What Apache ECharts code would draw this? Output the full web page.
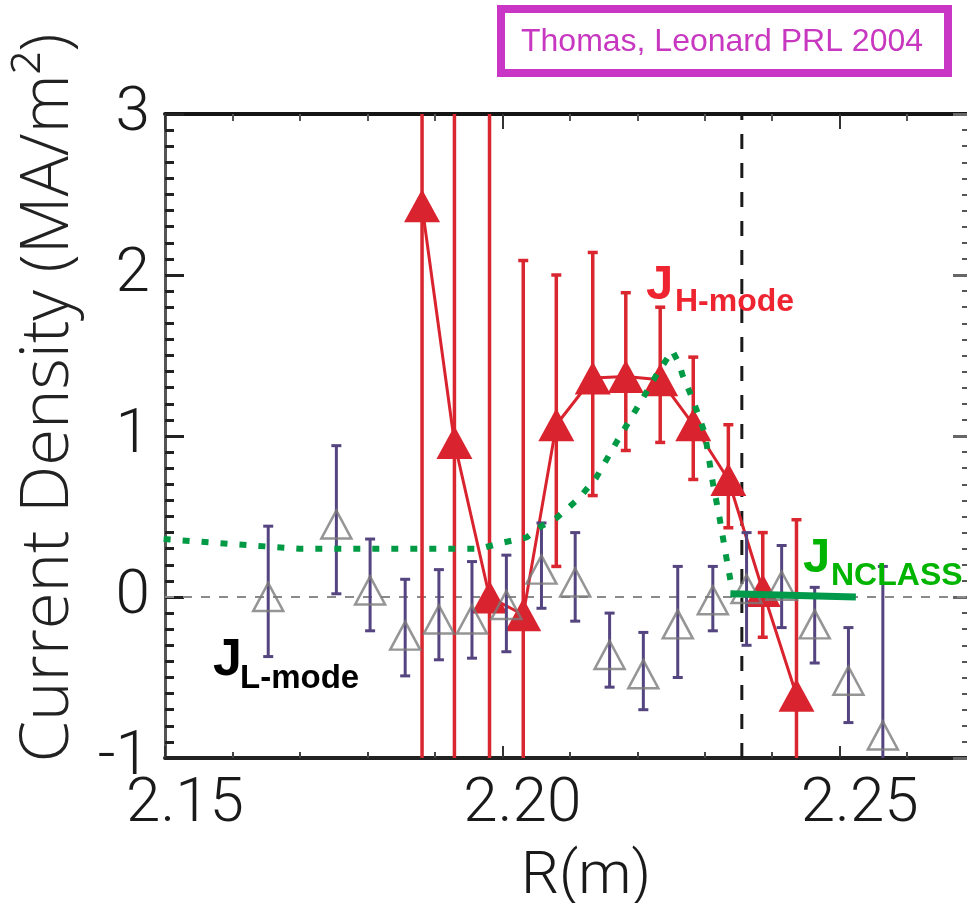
<!DOCTYPE html>
<html><head><meta charset="utf-8">
<script src="https://cdn.jsdelivr.net/npm/echarts@6/dist/echarts.min.js"></script>
<style>html,body{margin:0;padding:0;background:#fff}#c{width:967px;height:903px}</style>
</head><body><div id="c"></div>
<script>
// H-mode (filled red triangles)
const hX  = [2.1881, 2.1929, 2.1981, 2.2031, 2.2080, 2.2134, 2.2183, 2.2234, 2.2283, 2.2335, 2.2386, 2.2436];
const hY  = [2.43, 0.96, 0.00, -0.11, 1.07, 1.36, 1.37, 1.35, 1.07, 0.73, 0.04, -0.61];
const hHi = [4.0, 4.0, 4.0, 2.09, 2.00, 2.14, 1.89, 1.80, 1.49, 1.07, 0.40, 0.48];
const hLo = [-2.0, -2.0, -2.0, -2.0, 0.19, 0.63, 0.91, 0.96, 0.73, 0.43, -0.25, -2.0];
// L-mode (open triangles)
const lX  = [2.1653, 2.1754, 2.1804, 2.1856, 2.1906, 2.1955, 2.2006, 2.2058, 2.2108, 2.2159, 2.2209, 2.2260, 2.2312, 2.2362, 2.2414, 2.2463, 2.2513, 2.2564];
const lY  = [0.00, 0.45, 0.04, -0.24, -0.14, -0.14, -0.05, 0.17, 0.09, -0.36, -0.48, -0.17, -0.02, 0.05, 0.07, -0.17, -0.52, -0.86];
const lHi = [0.44, 0.94, 0.36, 0.11, 0.17, 0.22, 0.26, 0.46, 0.40, -0.10, -0.22, 0.19, 0.19, 0.40, 0.32, 0.06, -0.19, 0.19];
const lLo = [-0.37, 0.02, -0.21, -0.49, -0.39, -0.38, -0.34, -0.07, -0.15, -0.56, -0.70, -0.50, -0.21, -0.30, -0.19, -0.41, -0.78, -1.5];
// NCLASS dotted curve
const gX = [2.1498, 2.1595, 2.1699, 2.1966, 2.2003, 2.2036, 2.2058, 2.2080, 2.2113, 2.2139, 2.2169, 2.2199, 2.2230, 2.2252, 2.2262, 2.2267, 2.2282, 2.2300, 2.2312, 2.2322, 2.2331, 2.2340];
const gY = [0.36, 0.33, 0.30, 0.30, 0.34, 0.37, 0.44, 0.49, 0.61, 0.74, 0.96, 1.17, 1.39, 1.53, 1.45, 1.38, 1.23, 1.02, 0.71, 0.49, 0.27, 0.06];
// NCLASS solid segment
const nX = [2.2338, 2.2524];
const nY = [0.02, 0.00];
// reference lines
const vLineX = 2.2355;
const zeroY = 0;
// axes
const xMin = 2.15, xMax = 2.30, xStep = 0.05;
const yMin = -1, yMax = 3, yStep = 1;
const xTickLabels = ['2.15', '2.20', '2.25'];

const zip = (a, b) => a.map((v, i) => [v, b[i]]);
const zip3 = (a, b, c) => a.map((v, i) => [v, b[i], c[i]]);

const light = "Roboto, 'Liberation Sans', Arial, sans-serif";
const bold = "'Liberation Sans', Arial, sans-serif";

function errRender(color, lw, capW) {
  return function (params, api) {
    const x = api.value(0), lo = api.value(1), hi = api.value(2);
    const p1 = api.coord([x, hi]), p2 = api.coord([x, lo]);
    const cs = params.coordSys;
    const top = cs.y, bot = cs.y + cs.height;
    const y1 = Math.max(p1[1], top), y2 = Math.min(p2[1], bot);
    const st = { stroke: color, lineWidth: lw };
    const ch = [{ type: 'line', shape: { x1: p1[0], y1: y1, x2: p1[0], y2: y2 }, style: st }];
    if (p1[1] >= top) ch.push({ type: 'line', shape: { x1: p1[0] - capW / 2, y1: p1[1], x2: p1[0] + capW / 2, y2: p1[1] }, style: st });
    if (p2[1] <= bot) ch.push({ type: 'line', shape: { x1: p2[0] - capW / 2, y1: p2[1], x2: p2[0] + capW / 2, y2: p2[1] }, style: st });
    return { type: 'group', children: ch };
  };
}

const chart = echarts.init(document.getElementById('c'));
const xBase = {
  type: 'value', min: xMin, max: xMax, interval: xStep,
  splitLine: { show: false }, minorSplitLine: { show: false }
};
const yBase = {
  type: 'value', min: yMin, max: yMax, interval: yStep,
  splitLine: { show: false }, minorSplitLine: { show: false }
};
chart.setOption({
  animation: false,
  backgroundColor: '#fff',
  grid: { left: 165, top: 114, right: -210, bottom: 145, containLabel: false, outerBoundsMode: 'none' },
  xAxis: [
    Object.assign({}, xBase, {
      position: 'bottom',
      axisLine: { show: true, onZero: false, lineStyle: { color: '#222', width: 4 } },
      axisTick: { show: true, inside: true, length: 12, lineStyle: { color: '#333', width: 2 } },
      minorTick: { show: true, splitNumber: 5, length: 6, lineStyle: { color: '#444', width: 2 } },
      axisLabel: {
        show: true, margin: 16, fontFamily: light, fontWeight: 300, fontSize: 62, color: '#1a1a1a',
        padding: [0, 0, 0, 40],
        formatter: v => { const s = v.toFixed(2); return xTickLabels.indexOf(s) >= 0 ? s : ''; }
      }
    }),
    Object.assign({}, xBase, {
      position: 'top',
      axisLine: { show: true, onZero: false, lineStyle: { color: '#151515', width: 4 } },
      axisTick: { show: true, inside: true, length: 15, lineStyle: { color: '#333', width: 2 } },
      minorTick: { show: true, splitNumber: 5, length: 7, lineStyle: { color: '#555', width: 2 } },
      axisLabel: { show: false }
    })
  ],
  yAxis: [
    Object.assign({}, yBase, {
      position: 'left',
      axisLine: { show: true, onZero: false, lineStyle: { color: '#555', width: 3 } },
      axisTick: { show: true, inside: true, length: 19, lineStyle: { color: '#222', width: 3 } },
      minorTick: { show: true, splitNumber: 10, length: 9, lineStyle: { color: '#222', width: 3 } },
      axisLabel: { show: true, margin: 15, fontFamily: light, fontWeight: 300, fontSize: 62, color: '#1a1a1a' }
    }),
    Object.assign({}, yBase, {
      position: 'right', offset: -207,
      axisLine: { show: true, onZero: false, lineStyle: { color: '#444', width: 3 } },
      axisTick: { show: true, inside: true, length: 17, lineStyle: { color: '#666', width: 3 } },
      minorTick: { show: true, splitNumber: 10, length: 8, lineStyle: { color: '#555', width: 2 } },
      axisLabel: { show: false }
    })
  ],
  series: [
    {
      type: 'line', name: 'zero', data: [[xMin, zeroY], [xMax, zeroY]], symbol: 'none', silent: true,
      lineStyle: { color: '#8a8a8a', width: 2, type: [9, 9] }, z: 1
    },
    {
      type: 'line', name: 'separatrix', data: [[vLineX, yMin], [vLineX, yMax]], symbol: 'none', silent: true,
      lineStyle: { color: '#1a1a1a', width: 3, type: [15, 14] }, z: 1
    },
    {
      type: 'custom', name: 'H err', data: zip3(hX, hLo, hHi), clip: true,
      renderItem: errRender('#d9262f', 3.5, 10), encode: { x: 0, y: [1, 2] }, z: 3
    },
    {
      type: 'line', name: 'H-mode', data: zip(hX, hY),
      symbol: 'triangle', symbolSize: [36, 33], showSymbol: true,
      lineStyle: { color: '#d9232e', width: 3 },
      itemStyle: { color: '#d9232e' }, z: 4
    },
    {
      type: 'custom', name: 'L err', data: zip3(lX, lLo, lHi), clip: true,
      renderItem: errRender('#54447f', 3, 10), encode: { x: 0, y: [1, 2] }, z: 5
    },
    {
      type: 'scatter', name: 'L-mode', data: zip(lX, lY),
      symbol: 'triangle', symbolSize: [30, 28],
      itemStyle: { color: 'rgba(0,0,0,0)', borderColor: '#7a7a7a', borderWidth: 2.5 }, z: 6
    },
    {
      type: 'line', name: 'NCLASS', data: zip(gX, gY), showSymbol: false, symbol: 'none',
      lineStyle: { color: '#009a44', width: 6, type: [7, 12], cap: 'butt' }, z: 7
    },
    {
      type: 'line', name: 'NCLASS solid', data: zip(nX, nY), showSymbol: false, symbol: 'none',
      lineStyle: { color: '#009a4a', width: 7 }, z: 7
    }
  ],
  graphic: [
    { type: 'rect', shape: { x: 501, y: 9, width: 447, height: 64 },
      style: { fill: '#fff', stroke: '#c935c4', lineWidth: 8 } },
    { type: 'text', x: 722, y: 42,
      style: { text: 'Thomas, Leonard PRL 2004', fontFamily: bold, fontSize: 32, fill: '#c737bf',
        align: 'center', verticalAlign: 'middle', textAlign: 'center', textVerticalAlign: 'middle' } },
    { type: 'text', x: 49, y: 398, rotation: Math.PI / 2,
      style: { text: 'Current Density (MA/m²)', fontFamily: "'Open Sans', 'Liberation Sans', sans-serif", fontWeight: 300,
        fontSize: 67, fill: '#222', align: 'center', verticalAlign: 'middle', textAlign: 'center', textVerticalAlign: 'middle' } },
    { type: 'text', x: 586, y: 878,
      style: { text: 'R(m)', fontFamily: light, fontWeight: 300, fontSize: 60, fill: '#1a1a1a',
        align: 'center', verticalAlign: 'middle', textAlign: 'center', textVerticalAlign: 'middle' } },
    { type: 'text', x: 646, y: 285, z: 100,
      style: { text: 'J', fontFamily: bold, fontWeight: 'bold', fontSize: 49, fill: '#ee2530',
        align: 'left', verticalAlign: 'middle', textAlign: 'left', textVerticalAlign: 'middle' } },
    { type: 'text', x: 675, y: 302, z: 100,
      style: { text: 'H-mode', fontFamily: bold, fontWeight: 'bold', fontSize: 32, fill: '#ee2530',
        align: 'left', verticalAlign: 'middle', textAlign: 'left', textVerticalAlign: 'middle' } },
    { type: 'text', x: 803, y: 558, z: 100,
      style: { text: 'J', fontFamily: bold, fontWeight: 'bold', fontSize: 49, fill: '#00b400',
        align: 'left', verticalAlign: 'middle', textAlign: 'left', textVerticalAlign: 'middle' } },
    { type: 'text', x: 831, y: 576, z: 100,
      style: { text: 'NCLASS', fontFamily: bold, fontWeight: 'bold', fontSize: 32, fill: '#00b400',
        align: 'left', verticalAlign: 'middle', textAlign: 'left', textVerticalAlign: 'middle' } },
    { type: 'text', x: 213, y: 661, z: 100,
      style: { text: 'J', fontFamily: bold, fontWeight: 'bold', fontSize: 52, fill: '#000',
        align: 'left', verticalAlign: 'middle', textAlign: 'left', textVerticalAlign: 'middle' } },
    { type: 'text', x: 240, y: 679, z: 100,
      style: { text: 'L-mode', fontFamily: bold, fontWeight: 'bold', fontSize: 33, fill: '#000',
        align: 'left', verticalAlign: 'middle', textAlign: 'left', textVerticalAlign: 'middle' } }
  ]
});
</script>
</body></html>
